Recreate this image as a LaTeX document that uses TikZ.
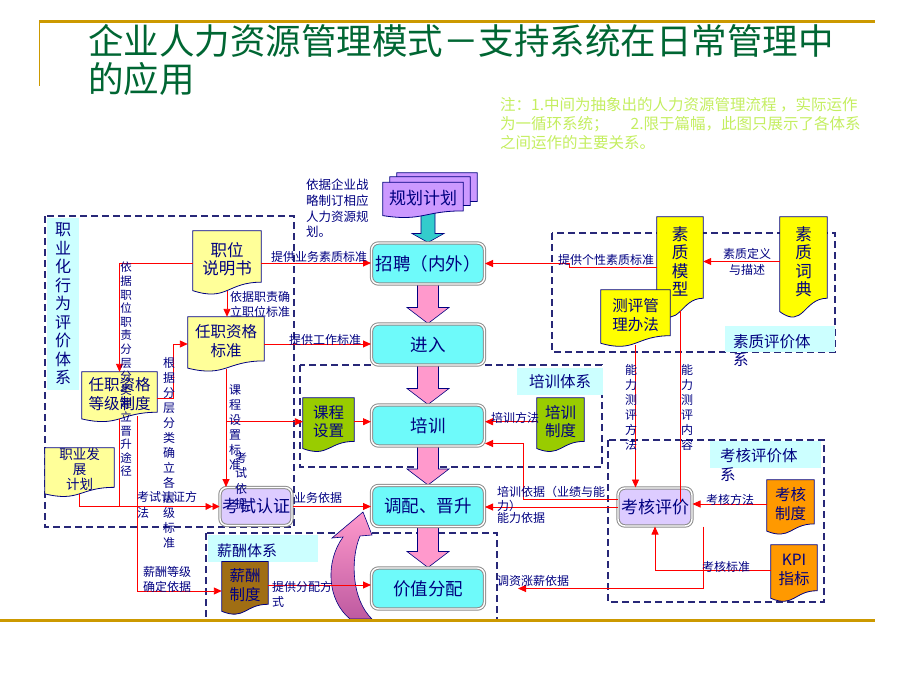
\documentclass[tikz,border=0pt]{standalone}
\usepackage{fontspec}
\setmainfont{Noto Sans CJK SC}
\usetikzlibrary{arrows.meta,calc,backgrounds}
\definecolor{navy}{RGB}{0,0,128}
\definecolor{titlegreen}{RGB}{0,102,51}
\definecolor{notegreen}{RGB}{196,238,96}
\definecolor{gold}{RGB}{204,153,0}
\definecolor{flowcyan}{RGB}{110,250,250}
\definecolor{lavender}{RGB}{221,204,255}
\definecolor{boxgray}{RGB}{140,140,140}
\definecolor{paleyellow}{RGB}{255,255,153}
\definecolor{brightyellow}{RGB}{255,255,0}
\definecolor{olivegreen}{RGB}{153,204,0}
\definecolor{orangedoc}{RGB}{255,153,0}
\definecolor{browndoc}{RGB}{160,110,20}
\definecolor{plandoc}{RGB}{204,153,255}
\definecolor{tealarrow}{RGB}{51,204,204}
\definecolor{pinkarrow}{RGB}{255,153,204}
\definecolor{darkpink}{RGB}{190,90,160}
\definecolor{labelcyan}{RGB}{204,255,255}
\definecolor{dashnavy}{RGB}{40,40,120}
\definecolor{linered}{RGB}{255,0,0}
\newcommand\myfs[2]{\fontsize{#1}{#2}\selectfont}
\newcommand\docshape[2]{\path[docline, fill=#2] (#1.north west) -- (#1.north east) -- ($(#1.south east)!0.089!(#1.north east)$) .. controls ($(#1.south)!0.089!(#1.north)$) and ($(#1.south)!-0.258!(#1.north)$) .. ($(#1.south west)!-0.061!(#1.north west)$) -- cycle;}
\newcommand\blockarrow[3]{\path[blockarr, fill=#3] ($(#1.south)+(-10.5,0)$) -- ($(#1.south)+(10.5,0)$) -- ($(#2.north)+(10.5,-16)$) -- ($(#2.north)+(21,-16)$) -- (#2.north) -- ($(#2.north)+(-21,-16)$) -- ($(#2.north)+(-10.5,-16)$) -- cycle;}
\begin{document}
\begin{tikzpicture}[x=1pt,y=-1pt,
  flow/.style={rectangle, rounded corners=7pt, draw=boxgray, double=white, double distance=1.4pt, line width=1pt, fill=flowcyan, minimum width=113pt, minimum height=41pt, inner sep=0pt, text=navy, font=\myfs{17.5}{20}},
  doc/.style={rectangle, inner sep=0pt, text=navy, align=center, font=\myfs{15.5}{18.5}},
  docline/.style={draw=navy, line width=0.8pt},
  lbl/.style={inner sep=0pt, text=navy, anchor=west, font=\myfs{12}{15}},
  mlbl/.style={inner sep=0pt, text=navy, anchor=north west, align=left},
  vlbl/.style={inner sep=0pt, text=navy, anchor=north, align=center},
  redln/.style={draw=linered, line width=0.9pt},
  redarr/.style={redln, -{Triangle[length=8pt,width=7pt]}},
  sys/.style={draw=dashnavy, line width=1.1pt, dash pattern=on 7pt off 4pt},
  syslbl/.style={fill=labelcyan, inner sep=0pt, text=navy, align=center, font=\myfs{15.5}{18.5}},
  blockarr/.style={draw=navy, line width=0.6pt}]
\path[use as bounding box] (0,0) rectangle (920,690);

% title and note
\draw[gold, line width=3pt] (39,22) -- (875,22);
\draw[gold, line width=1pt] (39,22) -- (39,86);
\node[anchor=north west, inner sep=0pt, align=left, text=titlegreen, font=\myfs{35.5}{38}] (title) at (88,24.5) {企业人力资源管理模式－支持系统在日常管理中\\的应用};
\node[anchor=north west, inner sep=0pt, align=left, text=notegreen, font=\myfs{15.5}{19}] (note) at (500,97) {注：1.中间为抽象出的人力资源管理流程 ，实际运作\\为一循环系统；\hspace{22pt}2.限于篇幅，此图只展示了各体系\\之间运作的主要关系。};

% main flow
\node[flow] (zp) at (428,263.5) {招聘（内外）};
\node[flow] (jr) at (428,344.5) {进入};
\node[flow] (px) at (428,425.5) {培训};
\node[flow] (dp) at (428,506) {调配、晋升};
\node[flow] (jz) at (428,588.5) {价值分配};
\node[flow, fill=lavender, minimum width=72pt, minimum height=38pt, font=\myfs{17}{20}] (ksrz) at (256,506.5) {考试认证};
\node[flow, fill=lavender, minimum width=74pt, minimum height=38pt, font=\myfs{17}{20}] (khpj) at (655,507) {考核评价};

% document nodes
\node[doc, minimum width=68pt, minimum height=56pt, font=\myfs{16.5}{18.5}] (zwsms) at (227,259) {职位\\说明书};
\node[doc, minimum width=76pt, minimum height=48pt] (rzbz) at (226,341) {任职资格\\标准};
\node[doc, minimum width=75pt, minimum height=44pt] (djzd) at (119.5,394) {任职资格\\等级制度};
\node[doc, minimum width=69pt, minimum height=43pt, font=\myfs{13.5}{15}] (zyfz) at (79.5,469.5) {职业发\\展\\计划};
\node[doc, minimum width=51pt, minimum height=47.5pt] (kcsz) at (328.5,421.7) {课程\\设置};
\node[doc, minimum width=47pt, minimum height=47.5pt] (pxzd) at (560.5,421.7) {培训\\制度};
\node[doc, minimum width=46pt, minimum height=89pt, font=\myfs{16.5}{18.5}] (szmx) at (680,261.5) {素\\质\\模\\型};
\node[doc, minimum width=47pt, minimum height=89pt, font=\myfs{16.5}{18.5}] (szcd) at (803.5,261.5) {素\\质\\词\\典};
\node[doc, minimum width=69pt, minimum height=50pt] (cpgl) at (635.5,315) {测评管\\理办法};
\node[doc, minimum width=47pt, minimum height=48pt] (khzd) at (790.5,504) {考核\\制度};
\node[doc, minimum width=46pt, minimum height=50pt] (kpi) at (794,570) {KPI\\指标};
\node[doc, minimum width=46pt, minimum height=46.5pt] (xczd) at (245,585) {薪酬\\制度};
\node[doc, minimum width=80pt, minimum height=31pt] (gh3) at (437,188.5) {};
\node[doc, minimum width=80pt, minimum height=31pt] (gh2) at (430,192.5) {};
\node[doc, minimum width=80pt, minimum height=31pt, font=\myfs{17}{20}] (gh) at (423,198) {规划计划};

% system labels
\node[syslbl, minimum width=32pt, minimum height=172pt, font=\myfs{16}{18.5}] (zyhtx) at (63,304) {职\\业\\化\\行\\为\\评\\价\\体\\系};
\node[syslbl, minimum width=86pt, minimum height=27pt] (pxtx) at (560,381.5) {培训体系};
\node[mlbl, font=\myfs{15.5}{18}] (szpjtx) at (733,334) {素质评价体\\系};
\node[mlbl, font=\myfs{15.5}{19}] (khpjtx) at (720,448) {考核评价体\\系};
\node[lbl, font=\myfs{15}{18}] (xctx) at (217,551) {薪酬体系};

% background drawings
\begin{pgfonlayer}{background}
  \draw[sys] (45,216) rectangle (294,527);
  \draw[sys] (300,365) rectangle (602,467);
  \draw[sys] (552,233) rectangle (835,352);
  \draw[sys] (608,440) rectangle (824,602);
  \draw[sys] (206,533) rectangle (497,620);
  \fill[labelcyan] (725,326) rectangle (835,352);
  \fill[labelcyan] (710,441) rectangle (821,468);
  \fill[labelcyan] (208,535) rectangle (318,562);
  \path[blockarr, fill=tealarrow] ($(gh.south -| zp.north)+(-7,-2)$) -- ($(gh.south -| zp.north)+(7,-2)$) -- ($(zp.north)+(7,-9)$) -- ($(zp.north)+(16,-9)$) -- (zp.north) -- ($(zp.north)+(-16,-9)$) -- ($(zp.north)+(-7,-9)$) -- cycle;
  \docshape{gh3}{plandoc}
  \docshape{gh2}{plandoc}
  \docshape{gh}{plandoc}
  \docshape{zwsms}{paleyellow}
  \docshape{rzbz}{paleyellow}
  \docshape{djzd}{paleyellow}
  \docshape{zyfz}{paleyellow}
  \docshape{kcsz}{olivegreen}
  \docshape{pxzd}{olivegreen}
  \docshape{szmx}{brightyellow}
  \docshape{szcd}{brightyellow}
  \docshape{cpgl}{brightyellow}
  \docshape{khzd}{orangedoc}
  \docshape{kpi}{orangedoc}
  \docshape{xczd}{browndoc}
  \blockarrow{zp}{jr}{pinkarrow}
  \blockarrow{jr}{px}{pinkarrow}
  \blockarrow{px}{dp}{pinkarrow}
  \blockarrow{dp}{jz}{pinkarrow}
  \path[blockarr, top color=pinkarrow, bottom color=darkpink] (363,512) -- (372,535) -- (360,536) .. controls (350,560) and (352,600) .. (372,619) -- (350,619) .. controls (327,600) and (325,562) .. (343,537) -- (332,538) -- cycle;
\end{pgfonlayer}

% red connectors
\draw[redarr] ($(zwsms.west)+(0,4)$) -| (djzd.north);
\draw[redln] ($(djzd.south)+(0,3)$) -- (djzd.south |- ksrz.west);
\draw[redln, -{Triangle[length=7pt,width=7pt]Triangle[length=7pt,width=7pt]}] ($(zyfz.south)+(0,3)$) |- (ksrz.west);
\draw[redarr] ($(djzd.south)+(18,0)$) |- ($(xczd.west)+(0,6)$);
\draw[redarr] ($(djzd.east)+(0,4)$) -- ++(16,0) |- ($(rzbz.west)+(0,3)$);
\draw[redarr] ($(zwsms.south)+(0,4)$) -- (zwsms.south |- rzbz.north);
\draw[redarr] ($(zwsms.east)+(0,4)$) -- ($(zwsms.east -| zp.west)+(0,4)$);
\draw[redarr] ($(rzbz.east)+(0,3)$) -- ($(rzbz.east -| jr.west)+(0,3)$);
\draw[redarr] ($(rzbz.south)+(0,4)$) -- (rzbz.south |- ksrz.north);
\draw[redarr] (rzbz.south |- kcsz.west) -- (kcsz.west);
\draw[redarr] (kcsz.east) -- (kcsz.east -| px.west);
\draw[redarr] (ksrz.east) -- (ksrz.east -| dp.west);
\draw[redarr] (xczd.east) -- (xczd.east -| jz.west);
\draw[redarr] (pxzd.west) -- (pxzd.west -| px.east);
\draw[redarr] ($(szmx.west)+(0,6)$) -- ++(-87,0) |- (zp.east);
\draw[redarr] (szcd.west) -- (szmx.east);
\draw[redarr] ($(cpgl.south)+(0,5)$) -- (cpgl.south |- khpj.north);
\draw[redln] ($(szmx.south)+(0,5)$) -- ($(szmx.south |- khpj.center)+(0,-5)$);
\draw[redarr] (khzd.west) -- (khzd.west -| khpj.east);
\draw[redarr] (kpi.west) -| (khpj.south);
\draw[redarr] (khpj.west) -- (khpj.west -| dp.east);
\coordinate (pxin) at ($(px.south east)+(0,-3)$);
\draw[redarr] ($(khpj.west)+(0,-8)$) -- ($(khpj.west)+(-94,-8)$) |- (pxin);
\coordinate (txend) at ($(jz.east)+(33,0)$);
\draw[redarr] ($(khpj.south east)+(11,0)$) |- (txend);

% labels
\node[lbl] (l1) at (271,257) {提供业务素质标准};
\node[mlbl, font=\myfs{12}{15.5}] (l2) at (230,291) {依据职责确\\立职位标准};
\node[lbl] (l3) at (289,340) {提供工作标准};
\node[mlbl, font=\myfs{12}{16}] (l4) at (137,491) {考试认证方\\法};
\node[lbl] (l5) at (294,498) {业务依据};
\node[mlbl, font=\myfs{12}{15.5}] (l6) at (143,566) {薪酬等级\\确定依据};
\node[mlbl, font=\myfs{12}{15}] (l7) at (272,581) {提供分配方\\式};
\node[lbl] (l8) at (491,418) {培训方法};
\node[mlbl, font=\myfs{12}{14.5}] (l9) at (497,486) {培训依据（业绩与能\\力）};
\node[lbl] (l10) at (497,518) {能力依据};
\node[lbl] (l11) at (497,581) {调资涨薪依据};
\node[lbl] (l12) at (558,260) {提供个性素质标准};
\node[mlbl, anchor=north, align=center, font=\myfs{12}{16}] (l13) at (747,248) {素质定义\\与描述};
\node[lbl] (l14) at (706,500) {考核方法};
\node[lbl] (l15) at (702,567) {考核标准};
\node[mlbl, font=\myfs{12.5}{15.7}] (l16) at (306,179) {依据企业战\\略制订相应\\人力资源规\\划。};
\node[vlbl, font=\myfs{11.5}{13.6}] (v1) at (126,262) {依\\据\\职\\位\\职\\责\\分\\层\\分\\类\\建\\立\\晋\\升\\途\\径};
\node[vlbl, font=\myfs{12}{15}] (v2) at (169,357) {根\\据\\分\\层\\分\\类\\确\\立\\各\\层\\级\\标\\准};
\node[vlbl, font=\myfs{12}{15}] (v3) at (235,384) {课\\程\\设\\置\\标\\准};
\node[vlbl, font=\myfs{12}{15.5}] (v4) at (241,452) {考\\试\\依\\据};
\node[vlbl, font=\myfs{12}{15}] (v5) at (631,364) {能\\力\\测\\评\\方\\法};
\node[vlbl, font=\myfs{12}{15}] (v6) at (687,364) {能\\力\\测\\评\\内\\容};

\draw[gold, line width=3pt] (0,620) -- (875,620);
\end{tikzpicture}
\end{document}
